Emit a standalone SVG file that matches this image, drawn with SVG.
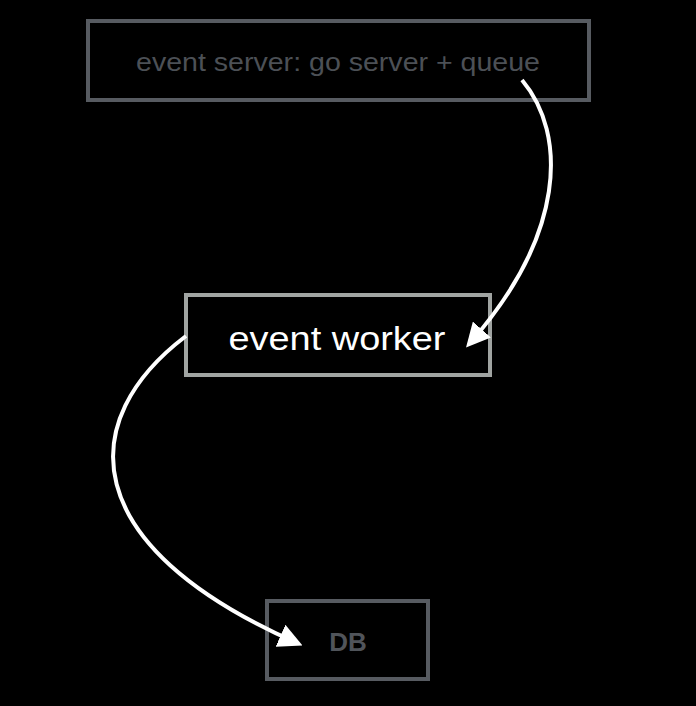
<svg xmlns="http://www.w3.org/2000/svg" width="696" height="706" viewBox="0 0 696 706">
<style>
.box{fill:#000;stroke-width:4}
.conn{fill:none;stroke:#fff;stroke-width:4}
text{font-family:"Liberation Sans",Arial,sans-serif;text-anchor:middle}
</style>
<defs>
<marker id="ah" markerWidth="6" markerHeight="6" refX="4.5" refY="3" orient="auto" markerUnits="strokeWidth">
<path d="M0,0 L6,3 L0,6 z" fill="#fff"/>
</marker>
</defs>
<rect width="696" height="706" fill="#000"/>
<g id="event-server">
<rect class="box" x="88" y="21" width="501" height="79" stroke="#575b61"/>
<text x="338" y="71" font-size="25" fill="#4c5056" textLength="404" lengthAdjust="spacingAndGlyphs">event server: go server + queue</text>
</g>
<g id="event-worker">
<rect class="box" x="186" y="295" width="304" height="80" stroke="#a0a4a2"/>
<text x="337" y="350" font-size="34" fill="#fff" textLength="217" lengthAdjust="spacingAndGlyphs">event worker</text>
</g>
<g id="db">
<rect class="box" x="267" y="601" width="161" height="78" stroke="#575b61"/>
<text x="348" y="651" font-size="26" font-weight="bold" fill="#50545a">DB</text>
</g>
<g id="connectors">
<path class="conn" d="M522,80 C568,135 565,235 470,343" marker-end="url(#ah)"/>
<path class="conn" d="M186,336 C75,420 75,545 297,643" marker-end="url(#ah)"/>
</g>
</svg>
